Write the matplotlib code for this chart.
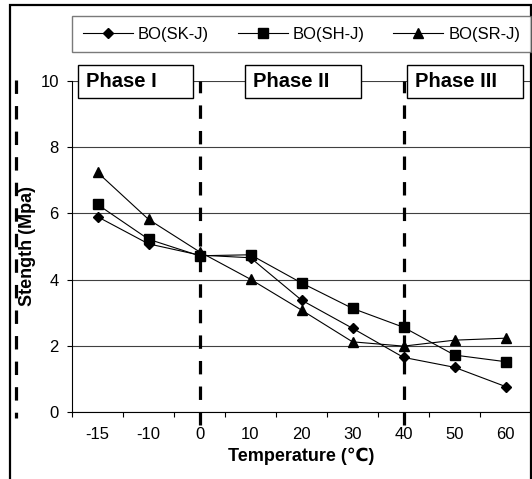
import numpy as np
import matplotlib
matplotlib.use("Agg")
import matplotlib.pyplot as plt
from matplotlib.patches import Rectangle
from matplotlib.lines import Line2D

plt.rcParams['font.family'] = ['Liberation Sans', 'DejaVu Sans']

temps = ["-15", "-10", "0", "10", "20", "30", "40", "50", "60"]
sk_j = [5.90, 5.08, 4.74, 4.66, 3.38, 2.53, 1.65, 1.35, 0.77]
sh_j = [6.27, 5.22, 4.72, 4.75, 3.90, 3.13, 2.56, 1.72, 1.52]
sr_j = [7.24, 5.82, 4.84, 4.01, 3.08, 2.12, 1.99, 2.17, 2.23]
phase_lines = ["0", "40"]
phases = ["Phase I", "Phase II", "Phase III"]

x = np.arange(len(temps))

fig = plt.figure(figsize=(5.32, 4.79), dpi=100)
ax = fig.add_axes([72/532, 1-412/479, 459/532, 331/479])

ax.plot(x, sk_j, "-kD", lw=0.8, ms=5.5, label="BO(SK-J)")
ax.plot(x, sh_j, "-ks", lw=0.8, ms=6.5, label="BO(SH-J)")
ax.plot(x, sr_j, "-k^", lw=0.8, ms=7.5, label="BO(SR-J)")

ax.set_xlim(-0.5, len(temps) - 0.5)
ax.set_ylim(0, 10)
ax.set_yticks([0, 2, 4, 6, 8, 10])
ax.set_xticks(x)
ax.set_xticklabels(temps)
ax.set_xticks(np.arange(len(temps) + 1) - 0.5, minor=True)
ax.tick_params(axis="x", which="major", length=0, pad=11, labelsize=12)
ax.tick_params(axis="x", which="minor", length=3.5, width=0.8, direction="out")
ax.tick_params(axis="y", length=3.5, width=0.8, pad=6, labelsize=12)
ax.grid(True, axis="y", color="0.25", lw=0.8)
ax.set_axisbelow(True)
for s in ["top", "right"]:
    ax.spines[s].set_visible(False)
ax.spines["left"].set_linewidth(0.8)
ax.spines["bottom"].set_linewidth(0.8)

ax.set_xlabel("Temperature (℃)", fontsize=13, fontweight="bold", labelpad=4)
ax.set_ylabel("Stength (Mpa)", fontsize=13, fontweight="bold", labelpad=3)

# фазовые границы
for t in phase_lines:
    ax.axvline(temps.index(t), ymin=-0.04, ymax=1, color="k", lw=2.3,
               dashes=(4.2, 3.8), clip_on=False, zorder=1)

# рамки с подписями фаз
box_x = [(-0.38, 1.87), (2.89, 5.17), (6.07, 8.34)]
for name, (x0, x1) in zip(phases, box_x):
    ax.add_patch(Rectangle((x0, 9.5), x1 - x0, 0.98, facecolor="white",
                           edgecolor="k", lw=1.0, clip_on=False, zorder=5))
    ax.text(x0 + 0.16, 9.99, name, fontsize=14.5, fontweight="bold",
            ha="left", va="center", zorder=6)

# легенда сверху
fig.legend(loc="center", bbox_to_anchor=(72/532, 1-55/479, 459/532, 42/479),
           mode="expand", ncol=3, fontsize=12, frameon=True, fancybox=False,
           edgecolor="0.35", borderpad=0.65, handlelength=3.0,
           handletextpad=0.3, borderaxespad=0)
fig.legends[0].get_frame().set_linewidth(1.0)

# внешняя рамка и пунктир слева
fig.add_artist(Rectangle((10/532, -0.01), 520.5/532, 1.01 - 5/479,
                         transform=fig.transFigure, fill=False,
                         edgecolor="k", lw=1.6))
fig.add_artist(Line2D([16/532, 16/532], [1-80/479, 1-418/479],
                      transform=fig.transFigure, color="k", lw=2.3,
                      dashes=(4.2, 3.8)))

fig.savefig("out.png", dpi=100)
